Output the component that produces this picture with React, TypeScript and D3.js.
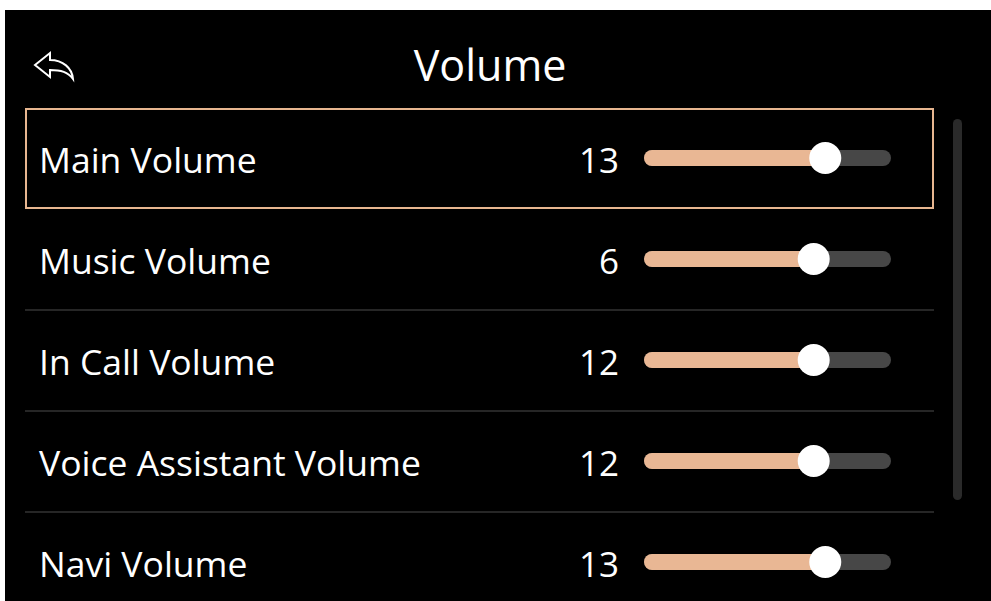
import React from "react";
import * as d3 from "d3";

const title = "Volume";
const labels = ["Main Volume", "Music Volume", "In Call Volume", "Voice Assistant Volume", "Navi Volume"];
const values = [13, 6, 12, 12, 13];
const sliderLevels = [75, 70, 70, 70, 75];
const selectedIndex = 0;

const W = 991;
const H = 601;

export default function App() {
  const rowY = d3.scaleBand<number>().domain(d3.range(labels.length)).range([108, 613]).paddingInner(0);
  const sx = d3.scaleLinear().domain([0, 100]).range([652, 883]);
  const font = "'Open Sans', 'Noto Sans', sans-serif";
  return (
    <svg width={W} height={H} style={{ position: "absolute", left: 0, top: 0, display: "block" }}>
      <rect x={0} y={0} width={W} height={H} fill="#ffffff" />
      <rect x={5} y={10} width={W - 5} height={H - 10} fill="#000000" />
      <text x={490} y={81} fill="#ffffff" fontFamily={font} fontSize={43} textAnchor="middle">{title}</text>
      <path
        d="M35,65 L50,53 L50,60 C63,60 72,68 73,79 C68,72 61,70 50,70 L50,77 Z"
        fill="none"
        stroke="#ffffff"
        strokeWidth={2}
        strokeLinejoin="miter"
      />
      <rect x={953} y={119} width={9} height={381} rx={4.5} fill="#2a2a2a" />
      {labels.map((lab, i) => {
        const y0 = rowY(i)!;
        const cy = y0 + rowY.bandwidth() / 2 - 0.5;
        const x = sx(sliderLevels[i]);
        return (
          <g key={lab}>
            {i === selectedIndex ? (
              <rect x={26} y={y0 + 1} width={907} height={rowY.bandwidth() - 2} fill="none" stroke="#e7b690" strokeWidth={2} />
            ) : null}
            {i < labels.length - 1 && i !== selectedIndex ? (
              <line x1={25} x2={934} y1={y0 + rowY.bandwidth()} y2={y0 + rowY.bandwidth()} stroke="#333333" strokeWidth={1.5} />
            ) : null}
            <text x={39} y={cy + 15} fill="#ffffff" fontFamily={font} fontSize={35.5}>{lab}</text>
            <text x={619} y={cy + 15} fill="#ffffff" fontFamily={font} fontSize={35} textAnchor="end">{values[i]}</text>
            <line x1={sx(0)} x2={sx(100)} y1={cy} y2={cy} stroke="#474747" strokeWidth={16} strokeLinecap="round" />
            <line x1={sx(0)} x2={x} y1={cy} y2={cy} stroke="#e9b794" strokeWidth={16} strokeLinecap="round" />
            <circle cx={x} cy={cy} r={16} fill="#ffffff" />
          </g>
        );
      })}
    </svg>
  );
}
